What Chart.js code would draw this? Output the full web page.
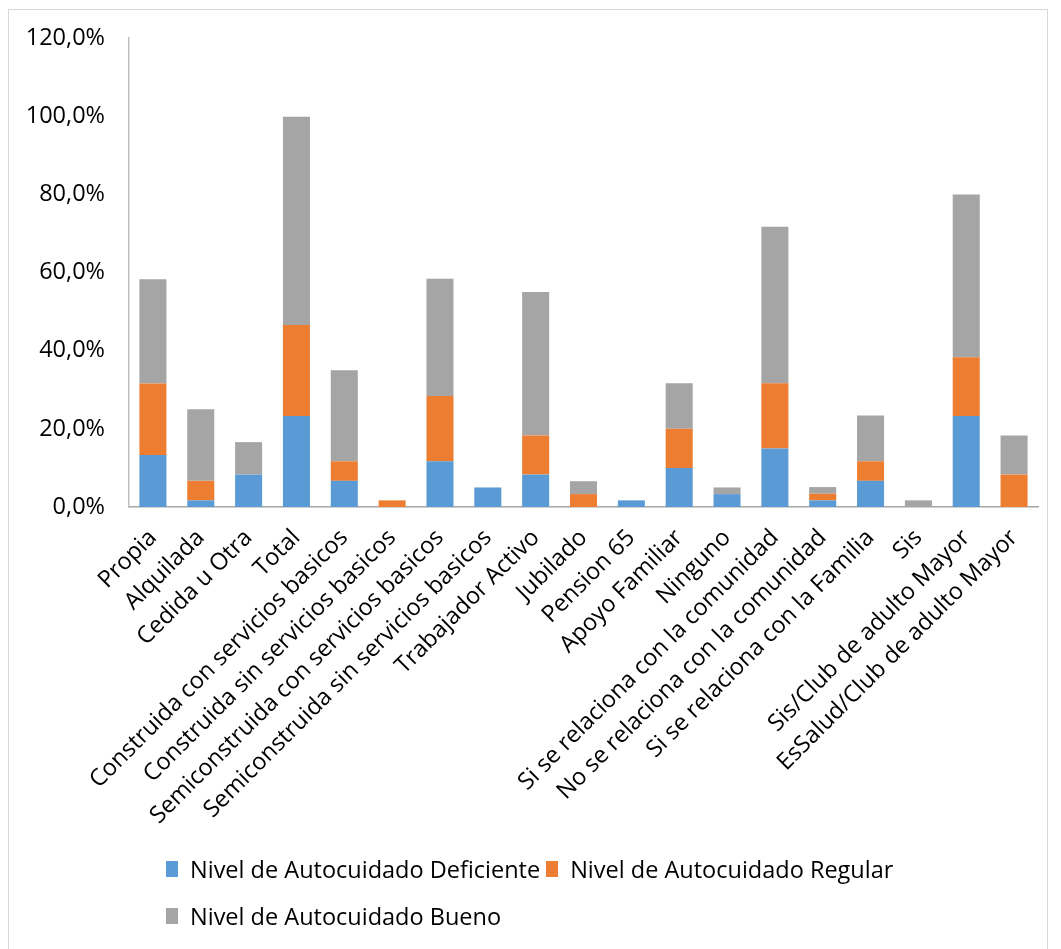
<!DOCTYPE html>
<html>
<head>
<meta charset="utf-8">
<script src="https://cdn.jsdelivr.net/npm/chart.js@4"></script>
<style>
body { margin:0; background:#fff; font-family:"Open Sans", sans-serif; }
#wrap { position:relative; width:1061px; height:949px; overflow:hidden; }
#frame { position:absolute; left:8px; top:9px; width:1040px; height:960px; border:1px solid #d9d9d9; box-sizing:border-box; }
#chart { position:absolute; left:0; top:0; }
#legend { position:absolute; left:166px; top:852px; width:800px; font-size:23.5px; color:#000; }
.item { display:inline-flex; align-items:center; height:34px; margin-right:6px; margin-bottom:13px; }
.box { width:12px; height:16px; margin-right:12px; }
</style>
</head>
<body>
<div id="wrap">
<div id="frame"></div>
<canvas id="chart" width="1061" height="949"></canvas>
<div id="legend"></div>
</div>
<script>
const categories = [
  "Propia", "Alquilada", "Cedida u Otra", "Total",
  "Construida con servicios basicos", "Construida sin servicios basicos",
  "Semiconstruida con servicios basicos", "Semiconstruida sin servicios basicos",
  "Trabajador Activo", "Jubilado", "Pension 65", "Apoyo Familiar", "Ninguno",
  "Si se relaciona con la comunidad", "No se relaciona con la comunidad",
  "Si se relaciona con la Familia", "Sis", "Sis/Club de adulto Mayor",
  "EsSalud/Club de adulto Mayor"
];
const deficiente = [13.3, 1.7, 8.3, 23.3, 6.7, 0, 11.7, 5.0, 8.3, 0, 1.7, 10.0, 3.3, 15.0, 1.7, 6.7, 0, 23.3, 0];
const regular    = [18.3, 5.0, 0, 23.3, 5.0, 1.7, 16.7, 0, 10.0, 3.3, 0, 10.0, 0, 16.7, 1.7, 5.0, 0, 15.0, 8.3];
const bueno      = [26.7, 18.3, 8.3, 53.3, 23.3, 0, 30.0, 0, 36.7, 3.3, 0, 11.7, 1.7, 40.0, 1.7, 11.7, 1.7, 41.7, 10.0];
const seriesNames = ["Nivel de Autocuidado Deficiente", "Nivel de Autocuidado Regular", "Nivel de Autocuidado Bueno"];
const colors = ["#5B9BD5", "#ED7D31", "#A5A5A5"];
const yTicks = [0, 20, 40, 60, 80, 100, 120];

const chart = new Chart(document.getElementById("chart"), {
  type: "bar",
  data: {
    labels: categories,
    datasets: [deficiente, regular, bueno].map((d, i) => ({
      label: seriesNames[i],
      data: d,
      backgroundColor: colors[i],
      barPercentage: 0.565,
      categoryPercentage: 1
    }))
  },
  options: {
    responsive: false,
    animation: false,
    layout: { padding: { top: 38, right: 23, left: 10, bottom: 0 } },
    plugins: { legend: { display: false }, tooltip: { enabled: false } },
    scales: {
      x: {
        stacked: true,
        grid: { display: false, drawTicks: false },
        border: { display: true, color: "#a6a6a6", width: 1.5 },
        ticks: { color: "#000", font: { family: "'Open Sans', sans-serif", size: 23.5 }, minRotation: 45, maxRotation: 45, autoSkip: false, padding: 17 },
        afterFit: s => { s.height = 949 - 507; }
      },
      y: {
        stacked: true,
        min: 0, max: 120,
        afterBuildTicks: s => { s.ticks = yTicks.map(v => ({ value: v })); },
        grid: { display: false, drawTicks: false },
        border: { display: true, color: "#bfbfbf", width: 1.5 },
        ticks: { color: "#000", font: { family: "'Open Sans', sans-serif", size: 23.5 }, padding: 24, callback: v => v.toFixed(1).replace(".", ",") + "%" },
        afterFit: s => { s.width = 119; }
      }
    }
  }
});

const legend = document.getElementById("legend");
chart.data.datasets.forEach(ds => {
  const it = document.createElement("span");
  it.className = "item";
  it.innerHTML = '<span class="box" style="background:' + ds.backgroundColor + '"></span>' + ds.label;
  legend.appendChild(it);
});
</script>
</body>
</html>
